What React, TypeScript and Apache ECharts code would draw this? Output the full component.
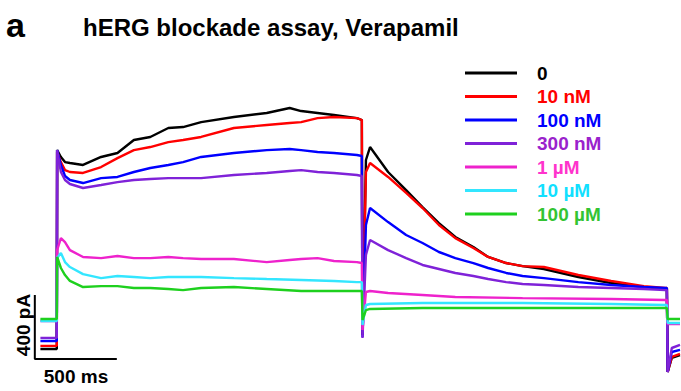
import React, { useEffect, useRef } from "react";
import * as echarts from "echarts";

// Time (ms) / current (pA) pairs
const trace0: [number, number][] = [
  [0, -181], [100, -181], [102, 1062], [125, 1019], [150, 987], [180, 981], [260, 969], [370, 1019],
  [470, 1044], [570, 1125], [670, 1144], [780, 1200], [870, 1206], [980, 1237], [1180, 1269],
  [1380, 1294], [1520, 1325], [1590, 1306], [1690, 1294], [1790, 1281], [1930, 1262], [1960, 1250],
  [1964, -94], [1985, 1000], [2010, 1081], [2120, 925], [2230, 812], [2330, 706], [2430, 606],
  [2530, 519], [2640, 456], [2730, 394], [2840, 356], [2940, 337], [3070, 319], [3280, 269],
  [3480, 231], [3680, 206], [3810, 194], [3820, 194], [3825, -325], [3850, -237], [3900, -219],
];
const trace10nM: [number, number][] = [
  [0, -162], [100, -162], [102, 1050], [125, 987], [150, 937], [180, 925], [260, 919], [370, 956],
  [470, 1012], [570, 1062], [670, 1081], [780, 1112], [870, 1125], [980, 1144], [1180, 1200],
  [1380, 1219], [1520, 1231], [1590, 1237], [1690, 1262], [1790, 1269], [1930, 1262], [1960, 1250],
  [1964, -94], [1985, 925], [2010, 981], [2120, 894], [2230, 794], [2330, 700], [2430, 594],
  [2530, 512], [2640, 450], [2730, 394], [2840, 356], [2940, 337], [3070, 331], [3280, 281],
  [3480, 244], [3680, 212], [3810, 200], [3820, 200], [3825, -325], [3850, -231], [3900, -212],
];
const trace100nM: [number, number][] = [
  [0, -131], [100, -131], [102, 1062], [125, 969], [150, 900], [180, 875], [260, 856], [370, 887],
  [470, 894], [570, 925], [670, 950], [780, 969], [870, 987], [980, 1019], [1180, 1044],
  [1380, 1062], [1520, 1069], [1590, 1062], [1690, 1050], [1790, 1044], [1930, 1031], [1960, 1025],
  [1964, -106], [1985, 594], [2010, 700], [2120, 612], [2230, 531], [2330, 481], [2430, 425],
  [2530, 387], [2640, 356], [2730, 325], [2840, 294], [2940, 275], [3070, 262], [3280, 237],
  [3480, 219], [3680, 206], [3810, 200], [3820, 200], [3825, -325], [3850, -200], [3900, -187],
];
const trace300nM: [number, number][] = [
  [0, -112], [100, -112], [102, 1062], [125, 925], [150, 875], [180, 850], [260, 825], [370, 844],
  [470, 862], [570, 875], [670, 881], [780, 887], [870, 887], [980, 887], [1180, 906],
  [1380, 919], [1520, 931], [1590, 937], [1690, 925], [1790, 919], [1930, 906], [1960, 900],
  [1964, -112], [1985, 406], [2010, 500], [2120, 437], [2230, 387], [2330, 344], [2430, 319],
  [2530, 294], [2640, 275], [2730, 256], [2840, 237], [2940, 225], [3070, 219], [3280, 206],
  [3480, 200], [3680, 194], [3810, 187], [3820, 187], [3825, -325], [3850, -175], [3900, -156],
];
const trace1uM: [number, number][] = [
  [0, -6], [100, -6], [102, 437], [125, 512], [150, 487], [180, 437], [260, 394], [370, 387],
  [470, 400], [570, 387], [670, 387], [780, 394], [870, 387], [980, 381], [1180, 381],
  [1380, 362], [1520, 375], [1590, 381], [1690, 387], [1790, 369], [1930, 362], [1960, 356],
  [1964, -62], [1985, 175], [2010, 181], [2120, 169], [2330, 156], [2530, 144], [2940, 137],
  [3480, 131], [3810, 125], [3820, 125], [3825, -25], [3900, -25],
];
const trace10uM: [number, number][] = [
  [0, -6], [100, -6], [102, 387], [125, 419], [150, 362], [180, 331], [260, 287], [370, 262],
  [470, 275], [570, 269], [670, 262], [780, 269], [870, 269], [980, 269], [1180, 262],
  [1380, 256], [1590, 250], [1790, 244], [1930, 237], [1960, 237],
  [1964, -31], [1985, 94], [2010, 100], [2330, 106], [2940, 106], [3480, 100], [3810, 94],
  [3820, 94], [3825, -19], [3900, -19],
];
const trace100uM: [number, number][] = [
  [0, 6], [100, 6], [102, 394], [125, 325], [150, 281], [180, 244], [260, 206], [370, 212],
  [470, 212], [570, 200], [670, 200], [780, 194], [870, 187], [980, 200], [1180, 206],
  [1380, 194], [1590, 181], [1790, 181], [1930, 181], [1960, 181],
  [1964, 0], [1985, 62], [2010, 69], [2330, 75], [2940, 75], [3480, 75], [3810, 75],
  [3820, 75], [3825, 6], [3900, 6],
];

const concentrations = ["0", "10 nM", "100 nM", "300 nM", "1 µM", "10 µM", "100 µM"];
const traceColors = ["#000000", "#ff0000", "#0000ff", "#7f22d8", "#ee22cc", "#33e6ff", "#1ed01e"];
const labelColors = ["#000000", "#ff0000", "#0000ff", "#9a22cc", "#ff33cc", "#11e0ff", "#33c433"];
const traces = [trace0, trace10nM, trace100nM, trace300nM, trace1uM, trace10uM, trace100uM];

// Scale bar: 500 ms x 400 pA
const scaleBar: [number, number][] = [[-34, 156], [-34, -244], [466, -244]];
const scaleBarTimeLabel = "500 ms";
const scaleBarCurrentLabel = "400 pA";

const FONT = "'Liberation Sans', Arial, Helvetica, sans-serif";

export default function App() {
  const ref = useRef<HTMLDivElement>(null);
  useEffect(() => {
    if (!ref.current) return;
    const chart = echarts.init(ref.current, null, { renderer: "svg" });
    const series: any[] = traces.map((d, i) => ({
      name: concentrations[i],
      type: "line",
      data: d,
      showSymbol: false,
      symbol: "none",
      color: traceColors[i],
      lineStyle: { width: 2.4, color: traceColors[i] },
      z: 2 + i,
    }));
    series.push({
      name: "scale",
      type: "line",
      data: scaleBar,
      showSymbol: false,
      symbol: "none",
      lineStyle: { width: 2, color: "#000" },
      z: 10,
    });
    chart.setOption({
      animation: false,
      backgroundColor: "#ffffff",
      title: [
        {
          text: "a",
          left: 6,
          top: 8,
          padding: 0,
          textStyle: { fontFamily: FONT, fontSize: 34, fontWeight: "bold", color: "#000" },
        },
        {
          text: "hERG blockade assay, Verapamil",
          left: 83,
          top: 15,
          padding: 0,
          textStyle: { fontFamily: FONT, fontSize: 24, fontWeight: "bold", color: "#000", lineHeight: 24 },
        },
      ],
      legend: {
        orient: "vertical",
        left: 465,
        top: 63,
        padding: 0,
        icon: "rect",
        itemWidth: 52,
        itemHeight: 3,
        itemGap: 3.5,
        data: concentrations.map((c, i) => ({ name: c, textStyle: { color: labelColors[i] } })),
        textStyle: {
          fontFamily: FONT,
          fontSize: 19,
          fontWeight: "bold",
          lineHeight: 14,
          padding: [0, 0, 6, 15],
        },
        selectedMode: false,
      },
      grid: { left: 24, right: 1, top: 64, bottom: 7 },
      xAxis: { type: "value", min: -100, max: 3900, show: false },
      yAxis: { type: "value", min: -400, max: 1600, show: false },
      graphic: [
        {
          type: "text",
          x: 23,
          y: 325,
          rotation: Math.PI / 2,
          style: {
            text: scaleBarCurrentLabel,
            font: `bold 19px ${FONT}`,
            fill: "#000",
            textAlign: "center",
            textVerticalAlign: "middle",
          },
        },
        {
          type: "text",
          x: 76,
          y: 376,
          style: {
            text: scaleBarTimeLabel,
            font: `bold 19px ${FONT}`,
            fill: "#000",
            textAlign: "center",
            textVerticalAlign: "middle",
          },
        },
      ],
      series,
    });
    return () => chart.dispose();
  }, []);
  return (
    <div
      ref={ref}
      style={{ position: "fixed", left: 0, top: 0, width: 681, height: 391, background: "#fff" }}
    />
  );
}
